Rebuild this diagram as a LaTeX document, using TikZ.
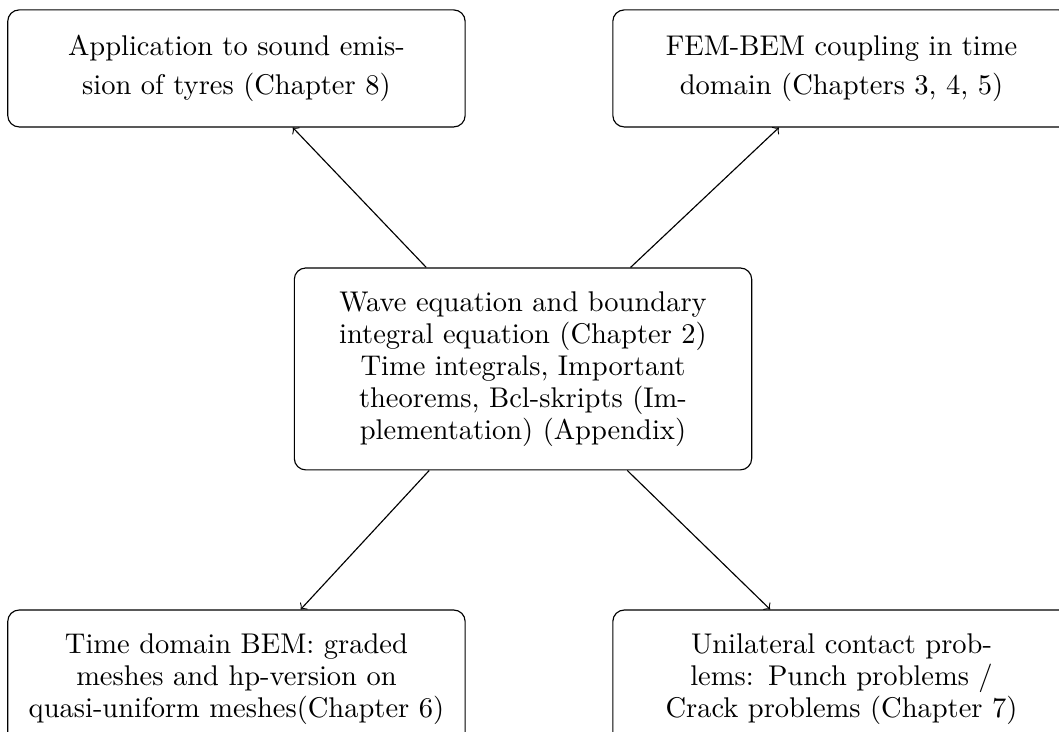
\documentclass[tikz,border=0pt]{standalone}
\usepackage{amsmath,amssymb}
\usepackage{xcolor}
\usetikzlibrary{positioning}

\begin{document}
\begin{tikzpicture}[
    chapbox/.style={draw, rounded corners, align=center, text width=5.5cm,
      inner xsep=2pt, font=\fontsize{10}{11.2}\selectfont},
    topbox/.style={chapbox, minimum height=1.443cm,
      font=\fontsize{10}{13.7}\selectfont}
  ]
  \useasboundingbox (-6.45,-4.465) rectangle (6.61,4.55);

  % Centre
  \node[chapbox, minimum height=2.49cm] (wave) at (0,0)
    {Wave equation and boundary\\ integral equation (Chapter 2)\\
     Time integrals, Important\\ theorems, Bcl-skripts (Im-\\
     plementation) (Appendix)};

  % Upper row
  \node[topbox] (tyres) at (-3.534,3.706)
    {Application to sound emis-\\ sion of tyres (Chapter 8)};
  \node[topbox] (fembem) at (3.928,3.706)
    {FEM-BEM coupling in time\\ domain (Chapters 3, 4, 5)};

  % Lower row
  \node[chapbox, minimum height=1.70cm] (tdbem) at (-3.534,-3.823)
    {Time domain BEM: graded\\ meshes and hp-version on\\
     quasi-uniform meshes(Chapter 6)};
  \node[chapbox, minimum height=1.70cm] (contact) at (3.928,-3.823)
    {Unilateral contact prob-\\ lems: Punch problems /\\
     Crack problems (Chapter 7)};

  % Arrows
  \foreach \n in {tyres,fembem,tdbem,contact}
    \draw[->] (wave) -- (\n);
\end{tikzpicture}
\end{document}
